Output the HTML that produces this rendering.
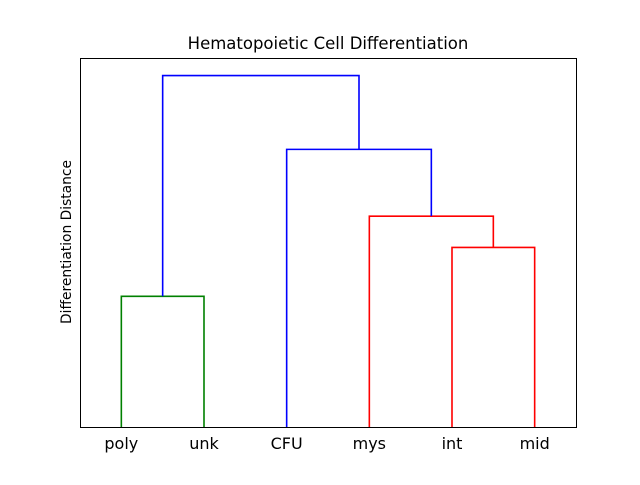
<!DOCTYPE html>
<html><head><meta charset="utf-8"><style>
body{margin:0;background:#fff;}
svg text{font-family:"DejaVu Sans","Liberation Sans",sans-serif;}
</style></head><body>
<svg id="chart" width="640" height="480" xmlns="http://www.w3.org/2000/svg">
<rect x="0" y="0" width="640" height="480" fill="#fff"/>
<text x="328" y="49" text-anchor="middle" font-size="16.5">Hematopoietic Cell Differentiation</text>
<text transform="translate(71,242) rotate(-90)" text-anchor="middle" font-size="13.8">Differentiation Distance</text>
<g id="links"></g>
<g id="labels"></g>
<rect x="80.5" y="58.5" width="496" height="369" fill="none" stroke="#000" stroke-width="1"/>
</svg>
<script>
const leaves = ["poly","unk","CFU","mys","int","mid"];
// merges: [left node, right node, distance, color]; nodes 0-5 leaves, 6+ merges
const mergeLeft = [0, 4, 3, 2, 6];
const mergeRight = [1, 5, 7, 8, 9];
const mergeDist = [0.372, 0.511, 0.60, 0.79, 1.0];
const mergeColor = ["#008000","#ff0000","#ff0000","#0000ff","#0000ff"];
const x0=80, w=496, yBase=427, h=369, yMax=1.05;
const xs = i => x0 + w*(i*10+5)/(leaves.length*10);
const ys = d => yBase - h*d/yMax;
const svgNS="http://www.w3.org/2000/svg";
const pos=[], hgt=[];
leaves.forEach((l,i)=>{pos[i]=xs(i);hgt[i]=0;
  const t=document.createElementNS(svgNS,"text");
  
  
  t.setAttribute("x",xs(i));t.setAttribute("y",449);t.setAttribute("text-anchor","middle");t.setAttribute("font-size","16");
  t.textContent=l;document.getElementById("labels").appendChild(t);
});
mergeDist.forEach((d,k)=>{
  const a=mergeLeft[k], b=mergeRight[k], n=leaves.length+k;
  const p=document.createElementNS(svgNS,"path");
  
  
  p.setAttribute("d",`M${pos[a]},${ys(hgt[a])} V${ys(d)} H${pos[b]} V${ys(hgt[b])}`);
  p.setAttribute("fill","none");p.setAttribute("stroke",mergeColor[k]);p.setAttribute("stroke-width","1.6");
  document.getElementById("links").appendChild(p);
  pos[n]=(pos[a]+pos[b])/2;hgt[n]=d;
});
</script>
</body></html>
